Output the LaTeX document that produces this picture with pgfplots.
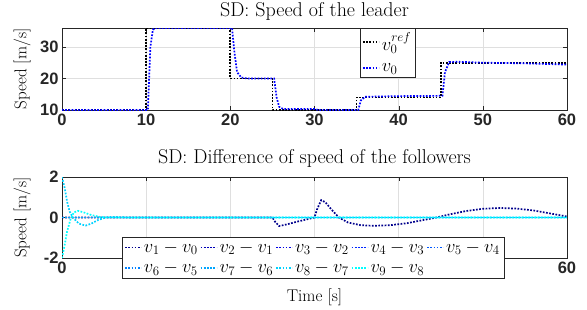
\RequirePackage{fix-cm}
\documentclass[border=0pt]{standalone}
\usepackage{pgfplots}
\pgfplotsset{compat=1.18}
\usepackage{fontspec}
\newfontfamily\hv{Liberation Sans}
\definecolor{c1}{rgb}{0,0,0.55}
\definecolor{c2}{rgb}{0,0,0.72}
\definecolor{c3}{rgb}{0,0,0.9}
\definecolor{c4}{rgb}{0,0.15,1}
\definecolor{c5}{rgb}{0,0.35,1}
\definecolor{c6}{rgb}{0,0.5,1}
\definecolor{c7}{rgb}{0,0.65,1}
\definecolor{c8}{rgb}{0,0.82,1}
\definecolor{c9}{rgb}{0,1,1}
\definecolor{axc}{rgb}{0.15,0.15,0.15}
\pgfplotsset{
  mystyle/.style={
    scale only axis, width=505pt,
    axis line style={axc, line width=0.6pt},
    tick style={axc},
    grid=major, major grid style={gray!25, line width=0.5pt},
    tick align=inside,
    xmin=0, xmax=60, xtick={0,10,...,60},
    /pgf/number format/assume math mode=true,
    tick label style={font=\hv\bfseries\fontsize{16.5}{18}\selectfont, text=axc},
    label style={font=\fontsize{17}{19}\selectfont},
    ylabel style={at={(axis description cs:-0.079,0.5)}, anchor=center},
    title style={font=\fontsize{20}{22}\selectfont},
    legend style={font=\fontsize{18.5}{21}\selectfont, draw=axc, fill=white, inner sep=2pt, row sep=4pt},
    legend cell align=left,
    legend image code/.code={\draw[##1] (0pt,0pt) -- (16pt,0pt);},
    every axis plot/.append style={line width=1.7pt, dash pattern=on 1.7pt off 1.5pt, line cap=butt},
  }
}
\begin{document}
\begin{tikzpicture}
\path[use as bounding box] (0,0) rectangle (587pt,-309pt);
\begin{axis}[mystyle, at={(62pt,-110pt)}, anchor=south west, height=82pt,
  ymin=10, ymax=36, ytick={10,20,30},
  title={SD: Speed of the leader},
  title style={yshift=-2pt},
  ylabel={Speed [m/s]},
  legend style={at={(0.590,1)}, anchor=north west, row sep=8pt},
]
\addplot[black] coordinates {(0,10)(10,10)(10,36)(20,36)(20,20)(25,20)(25,10)(35,10)(35,14)(45,14)(45,25)(60,25)};
\addlegendentry{$v_0^{ref}$}
\addplot[blue] coordinates {(0,10)(10.2,10)(10.5,30)(10.8,35.5)(11.2,36)(20.2,36)(20.5,28)(20.8,22)(21.3,20.3)(22,20)(25.2,20)(25.5,14)(25.8,11)(26.3,10.3)(30,10.3)(30.5,10)(35.2,10)(35.5,13)(36,14.2)(40,14.4)(45.2,14.5)(45.5,22)(46,25.2)(47,25.3)(50,25)(55,24.8)(60,24.4)};
\addlegendentry{$v_0$}
\end{axis}
\begin{axis}[mystyle, at={(62pt,-258pt)}, anchor=south west, height=81pt,
  ymin=-2, ymax=2, ytick={-2,0,2},
  yticklabels={-2,0,2},
  xticklabels={0,,,,,,60},
  title={SD: Difference of speed of the followers},
  ylabel={Speed [m/s]},
  xlabel={Time [s]},
  xlabel style={yshift=-9pt},
  legend columns=5,
  legend style={at={(0.119,0.259)}, anchor=north west, /tikz/every even column/.append style={column sep=0pt}},
]
\addplot[c1] coordinates {(0,0)(25,0)(25.3,-0.2)(25.8,-0.42)(26.5,-0.36)(28,-0.2)(29.5,-0.05)(30,0)(30.3,0.4)(30.8,0.86)(31.3,0.75)(32,0.4)(32.9,0)(34,-0.25)(35.5,-0.38)(37,-0.41)(39,-0.38)(41,-0.28)(43,-0.12)(44.5,0)(46,0.15)(48,0.32)(50,0.43)(52,0.47)(54,0.44)(56,0.35)(58,0.2)(60,0.05)};
\addlegendentry{$v_1-v_0$}
\addplot[c2] coordinates {(0,0)(60,0)};
\addlegendentry{$v_2-v_1$}
\addplot[c3] coordinates {(0,0)(60,0)};
\addlegendentry{$v_3-v_2$}
\addplot[c4] coordinates {(0,0)(60,0)};
\addlegendentry{$v_4-v_3$}
\addplot[c5] coordinates {(0,0)(60,0)};
\addlegendentry{$v_5-v_4$}
\addplot[c6] coordinates {(0,0)(60,0)};
\addlegendentry{$v_6-v_5$}
\addplot[c7] coordinates {(0,0)(60,0)};
\addlegendentry{$v_7-v_6$}
\addplot[c8] coordinates {(0,2)(0.3,1.5)(0.6,0.8)(0.9,0.3)(1.3,0)(2,-0.3)(2.8,-0.4)(3.5,-0.3)(4.3,-0.12)(5.2,0)(6,0.03)(8,0)(60,0)};
\addlegendentry{$v_8-v_7$}
\addplot[c9] coordinates {(0,-2)(0.3,-1.4)(0.6,-0.7)(1,-0.1)(1.4,0.25)(1.9,0.33)(2.6,0.25)(3.5,0.12)(4.5,0.03)(5.5,0)(60,0)};
\addlegendentry{$v_9-v_8$}
\end{axis}
\end{tikzpicture}
\end{document}
